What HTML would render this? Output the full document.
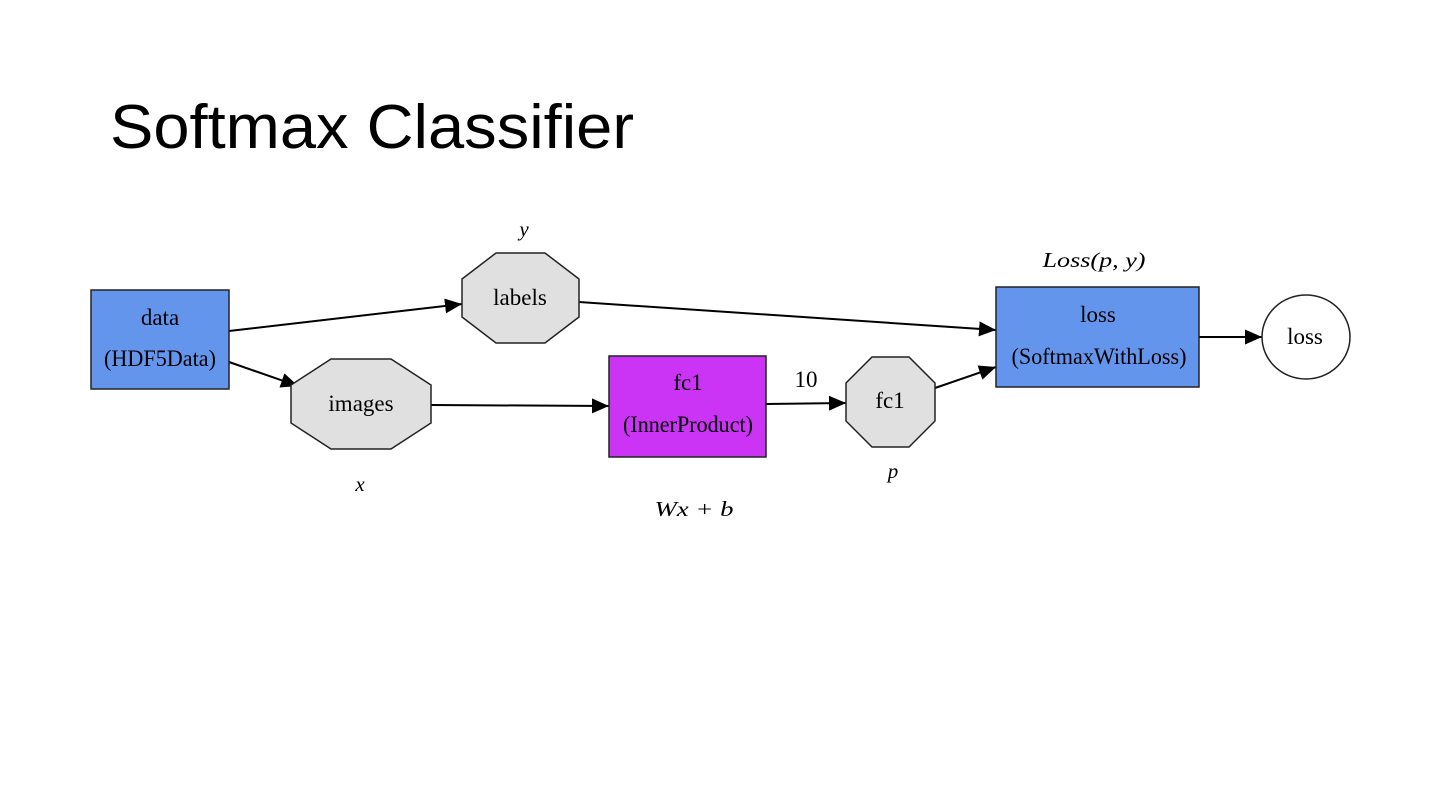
<!DOCTYPE html>
<html><head><meta charset="utf-8"><style>
html,body{margin:0;padding:0;background:#fff;width:1440px;height:810px;overflow:hidden}
</style></head><body>
<svg width="1440" height="810" xmlns="http://www.w3.org/2000/svg">
<defs>
<marker id="b" markerWidth="17" markerHeight="15" refX="17" refY="7.5" orient="auto" markerUnits="userSpaceOnUse"><path d="M0,0 L17,7.5 L0,15 z" fill="#000"/></marker></defs>
<text x="110" y="148" font-family="Liberation Sans, sans-serif" font-size="62" textLength="524" lengthAdjust="spacingAndGlyphs" fill="#000">Softmax Classifier</text>
<g stroke="#000" stroke-width="2" fill="none">
<line x1="229" y1="331" x2="462" y2="304" marker-end="url(#b)"/>
<line x1="229" y1="362" x2="298" y2="386" marker-end="url(#b)"/>
<line x1="431" y1="405" x2="609" y2="406" marker-end="url(#b)"/>
<line x1="766" y1="404" x2="846" y2="403" marker-end="url(#b)"/>
<line x1="579" y1="302" x2="996" y2="330" marker-end="url(#b)"/>
<line x1="935" y1="388" x2="996" y2="367" marker-end="url(#b)"/>
<line x1="1199" y1="337" x2="1262" y2="337" marker-end="url(#b)"/>
</g>
<g stroke="#222" stroke-width="1.5">
<rect x="91" y="290" width="138" height="99" fill="#6495ED"/>
<rect x="609" y="356" width="157" height="101" fill="#CB33F5"/>
<rect x="996" y="287" width="203" height="100" fill="#6495ED"/>
<polygon points="496,253 545,253 579,279 579,317 545,343 496,343 462,317 462,279" fill="#e0e0e0"/>
<polygon points="331,359 391,359 431,385 431,423 391,449 331,449 291,423 291,385" fill="#e0e0e0"/>
<polygon points="872,357 909,357 935,383 935,421 909,447 872,447 846,421 846,383" fill="#e0e0e0"/>
<ellipse cx="1306" cy="337" rx="44" ry="42" fill="#fff"/>
</g>
<g font-family="Liberation Serif, serif" font-size="23" fill="#000" text-anchor="middle">
<text x="160" y="325">data</text>
<text x="160" y="366" textLength="112" lengthAdjust="spacingAndGlyphs">(HDF5Data)</text>
<text x="520" y="305">labels</text>
<text x="361" y="411">images</text>
<text x="688" y="390">fc1</text>
<text x="688" y="432" textLength="130" lengthAdjust="spacingAndGlyphs">(InnerProduct)</text>
<text x="890" y="408">fc1</text>
<text x="1098" y="322">loss</text>
<text x="1099" y="364" textLength="175" lengthAdjust="spacingAndGlyphs">(SoftmaxWithLoss)</text>
<text x="1305" y="344">loss</text>
<text x="806" y="387">10</text>
</g>
<g font-family="Liberation Serif, serif" font-style="italic" font-size="21" fill="#000" text-anchor="middle">
<text x="524" y="236">y</text>
<text x="360" y="491">x</text>
<text x="694" y="516" textLength="79" lengthAdjust="spacingAndGlyphs">Wx + b</text>
<text x="893" y="478">p</text>
<text x="1094" y="267" textLength="103" lengthAdjust="spacingAndGlyphs">Loss(p, y)</text>
</g>
</svg>
</body></html>
